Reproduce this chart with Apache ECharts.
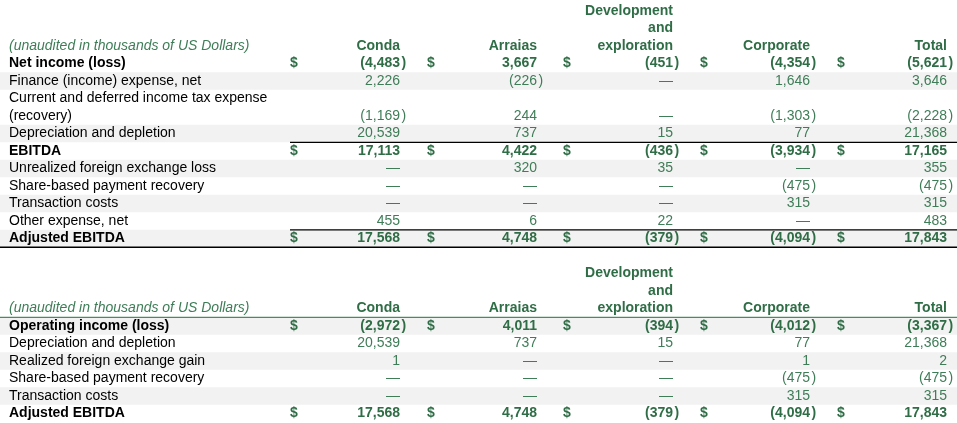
<!DOCTYPE html>
<html>
<head>
<meta charset="utf-8">
<script src="https://cdn.jsdelivr.net/npm/echarts@6/dist/echarts.min.js"></script>
<style>
  html, body { margin: 0; padding: 0; background: #fff; }
  #main { width: 957px; height: 423px; }
</style>
</head>
<body>
<div id="main"></div>
<script>
// column headings and unit note
const columns = ['Conda', 'Arraias', 'Development\nand\nexploration', 'Corporate', 'Total'];
const unitNote = '(unaudited in thousands of US Dollars)';

// EBITDA table (0 shown as a dash, negatives in brackets)
const topLabels = [
  'Net income (loss)',
  'Finance (income) expense, net',
  'Current and deferred income tax expense\n(recovery)',
  'Depreciation and depletion',
  'EBITDA',
  'Unrealized foreign exchange loss',
  'Share-based payment recovery',
  'Transaction costs',
  'Other expense, net',
  'Adjusted EBITDA'
];
const topConda = [-4483, 2226, -1169, 20539, 17113, 0, 0, 0, 455, 17568];
const topArraias = [3667, -226, 244, 737, 4422, 320, 0, 0, 6, 4748];
const topDev = [-451, 0, 0, 15, -436, 35, 0, 0, 22, -379];
const topCorporate = [-4354, 1646, -1303, 77, -3934, 0, -475, 315, 0, -4094];
const topTotal = [-5621, 3646, -2228, 21368, 17165, 355, -475, 315, 483, 17843];
const topTotalRows = [0, 4, 9];

// Operating income reconciliation table
const bottomLabels = [
  'Operating income (loss)',
  'Depreciation and depletion',
  'Realized foreign exchange gain',
  'Share-based payment recovery',
  'Transaction costs',
  'Adjusted EBITDA'
];
const bottomConda = [-2972, 20539, 1, 0, 0, 17568];
const bottomArraias = [4011, 737, 0, 0, 0, 4748];
const bottomDev = [-394, 15, 0, 0, 0, -379];
const bottomCorporate = [-4012, 77, 1, -475, 315, -4094];
const bottomTotal = [-3367, 21368, 2, -475, 315, 17843];
const bottomTotalRows = [0, 5];

// ---- layout ----
const W = 957;
const FONT = '14px "Liberation Sans", Arial, sans-serif';
const GREEN = '#2f6d46';
const GREEN_LIGHT = '#3f7d58';
const colRight = [400, 537, 673, 810, 947];
const dollarOffset = 110;
const labelX = 9;

const tables = [
  {
    start: 0, labels: topLabels, totals: topTotalRows,
    values: [topConda, topArraias, topDev, topCorporate, topTotal],
    greyParity: 1, rulesAbove: [4, 9], ruleBelowLast: true, headerRule: false
  },
  {
    start: 15, labels: bottomLabels, totals: bottomTotalRows,
    values: [bottomConda, bottomArraias, bottomDev, bottomCorporate, bottomTotal],
    greyParity: 0, rulesAbove: [], ruleBelowLast: false, headerRule: true
  }
];

// slot index for every row (two-line labels take two slots, values sit on the last)
tables.forEach(function (t) {
  let s = t.start + 3;
  t.slots = t.labels.map(function (lab) {
    const n = lab.split('\n').length;
    s += n;
    return s - 1;
  });
});

function fmt(v) {
  if (v === 0) return { txt: '\u2014', paren: false };
  const s = Math.abs(v).toLocaleString('en-US');
  return v < 0 ? { txt: '(' + s, paren: true } : { txt: s, paren: false };
}

function txt(text, x, y, align, font, fill) {
  return { type: 'text', style: { text: text, x: x, y: y, align: align, verticalAlign: 'middle', font: font, fill: fill } };
}

const headerData = tables.map(function (t, i) { return [t.start + 2, i]; });
const rowData = [];
tables.forEach(function (t, ti) {
  t.labels.forEach(function (lab, r) { rowData.push([t.slots[r], ti, r]); });
});

function renderHeader(params, api) {
  const t = tables[api.value(1)];
  const slot = api.value(0);
  const children = [];
  const p = api.coord([labelX, slot]);
  children.push(txt(unitNote, p[0], p[1], 'left', 'italic ' + FONT, GREEN_LIGHT));
  columns.forEach(function (c, ci) {
    const lines = c.split('\n');
    lines.forEach(function (ln, li) {
      const q = api.coord([colRight[ci], slot - (lines.length - 1 - li)]);
      children.push(txt(ln, q[0], q[1], 'right', 'bold ' + FONT, GREEN));
    });
  });
  if (t.headerRule) {
    const a = api.coord([0, slot + 0.5]);
    const b = api.coord([W, slot + 0.5]);
    children.push({ type: 'line', shape: { x1: a[0], y1: a[1], x2: b[0], y2: b[1] }, style: { stroke: '#4a8a62', lineWidth: 1.2 } });
  }
  return { type: 'group', children: children };
}

function renderRow(params, api) {
  const t = tables[api.value(1)];
  const r = api.value(2);
  const slot = api.value(0);
  const h = api.size([0, 1])[1];
  const lines = t.labels[r].split('\n');
  const bold = t.totals.indexOf(r) >= 0;
  const children = [];
  const left = api.coord([0, slot]);
  const right = api.coord([W, slot]);

  if (r % 2 === t.greyParity) {
    children.push({
      type: 'rect',
      shape: { x: left[0], y: left[1] - h / 2 - (lines.length - 1) * h, width: right[0] - left[0], height: h * lines.length },
      style: { fill: '#f2f2f2' }
    });
  }
  const lfont = (bold ? 'bold ' : '') + FONT;
  lines.forEach(function (ln, li) {
    const p = api.coord([labelX, slot - (lines.length - 1 - li)]);
    children.push(txt(ln, p[0], p[1], 'left', lfont, '#000'));
  });
  const vcol = bold ? GREEN : GREEN_LIGHT;
  t.values.forEach(function (col, ci) {
    const f = fmt(col[r]);
    const q = api.coord([colRight[ci], slot]);
    children.push(txt(f.txt, q[0], q[1], 'right', lfont, vcol));
    if (f.paren) children.push(txt(')', q[0] + 1.5, q[1], 'left', lfont, vcol));
    if (bold) {
      const d = api.coord([colRight[ci] - dollarOffset, slot]);
      children.push(txt('$', d[0], d[1], 'left', 'bold ' + FONT, GREEN));
    }
  });
  function rule(yOff, x0, lw) {
    const a = api.coord([x0, slot + yOff]);
    children.push({ type: 'line', shape: { x1: a[0], y1: a[1], x2: right[0], y2: a[1] }, style: { stroke: '#000', lineWidth: lw } });
  }
  if (t.rulesAbove.indexOf(r) >= 0) rule(-0.5, 290, 1.2);
  if (t.ruleBelowLast && r === t.labels.length - 1) rule(0.5, 0, 1.6);
  return { type: 'group', children: children };
}

const chart = echarts.init(document.getElementById('main'), null, { renderer: 'canvas' });
chart.setOption({
  animation: false,
  backgroundColor: '#fff',
  grid: { left: 0, right: 0, top: 0, bottom: 0 },
  xAxis: { type: 'value', min: 0, max: W, show: false },
  yAxis: { type: 'value', min: -0.63, max: 23.54, inverse: true, show: false },
  series: [
    { type: 'custom', name: 'rows', data: rowData, renderItem: renderRow, clip: false, silent: true },
    { type: 'custom', name: 'headers', data: headerData, renderItem: renderHeader, clip: false, silent: true }
  ]
});
</script>
</body>
</html>
